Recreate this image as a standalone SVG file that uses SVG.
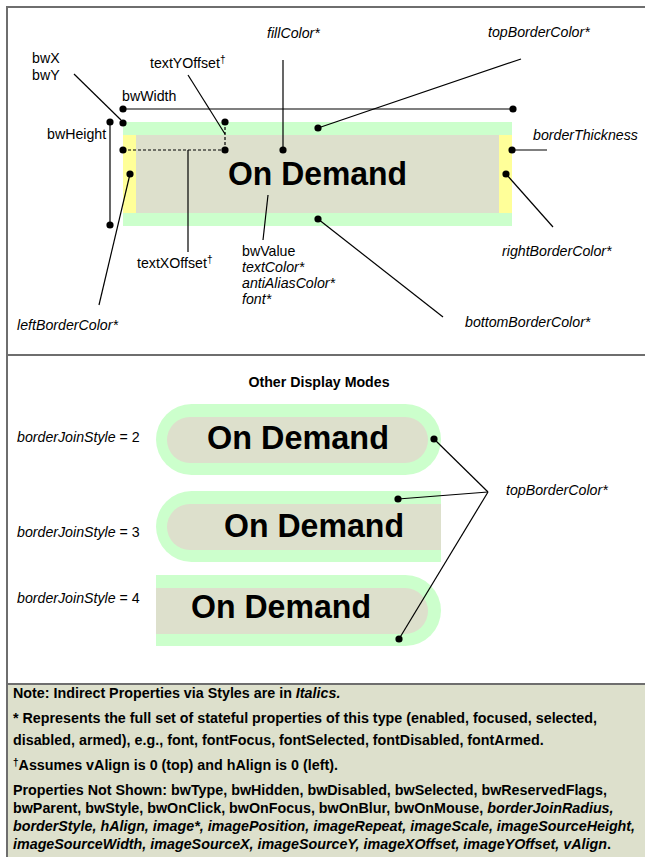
<svg xmlns="http://www.w3.org/2000/svg" width="645" height="857" viewBox="0 0 645 857">
<style>
.lbl{font-family:"Liberation Sans",Arial,sans-serif;font-size:14.2px;fill:#000}
.it{font-style:italic}
.big{font-family:"Liberation Sans",Arial,sans-serif;font-size:33px;font-weight:bold;fill:#000}
.note{font-family:"Liberation Sans",Arial,sans-serif;font-size:14.3px;font-weight:bold;fill:#000}
.ln{stroke:#000;stroke-width:1.2;fill:none}
.dash{stroke:#000;stroke-width:1.2;stroke-dasharray:3,2;fill:none}
.green{fill:#ccffcc}
.yellow{fill:#ffff99}
.fill{fill:#dde0cc}
.frame{stroke:#6e6e6e;stroke-width:2;fill:none}
</style>
<defs>
<circle id="dot" r="3.6" fill="#000"/>
</defs>
<rect x="0" y="0" width="645" height="857" fill="#fff"/>
<rect x="7" y="684" width="650" height="190" fill="#dde0cc"/>
<g id="frame">
<rect class="frame" x="7" y="7" width="660" height="880"/>
<line class="frame" x1="7" y1="355" x2="645" y2="355"/>
<line class="frame" x1="7" y1="684" x2="645" y2="684"/>
</g>
<g id="mainButton">
<rect class="green" x="123" y="122" width="389" height="13"/>
<rect class="green" x="123" y="213" width="389" height="13"/>
<rect class="yellow" x="123" y="135" width="13" height="78"/>
<rect class="yellow" x="499" y="135" width="13" height="78"/>
<rect class="fill" x="136" y="135" width="363" height="78"/>
<text class="big" x="228" y="185" textLength="179" lengthAdjust="spacingAndGlyphs">On Demand</text>
</g>
<g id="button2">
<rect class="green" x="156" y="404" width="285" height="71" rx="35.5"/>
<rect class="fill" x="167" y="417" width="261" height="46" rx="23"/>
<text class="big" x="207" y="449" textLength="182" lengthAdjust="spacingAndGlyphs">On Demand</text>
</g>
<g id="button3">
<path class="green" d="M191.5,491 H441 V562 H191.5 A35.5,35.5 0 0 1 191.5,491 Z"/>
<path class="fill" d="M190,504 H441 V550 H190 A23,23 0 0 1 190,504 Z"/>
<text class="big" x="224" y="537" textLength="180" lengthAdjust="spacingAndGlyphs">On Demand</text>
</g>
<g id="button4">
<path class="green" d="M156,575 H405.5 A35.5,35.5 0 0 1 405.5,646 H156 Z"/>
<path class="fill" d="M156,588 H405 A23,23 0 0 1 405,634 H156 Z"/>
<text class="big" x="191" y="618" textLength="180" lengthAdjust="spacingAndGlyphs">On Demand</text>
</g>
<g id="connectors">
<line class="ln" x1="123" y1="109" x2="513" y2="109"/>
<line class="ln" x1="74" y1="74" x2="121" y2="120"/>
<line class="ln" x1="110" y1="122" x2="110" y2="225"/>
<line class="dash" x1="225" y1="122" x2="225" y2="150"/>
<line class="dash" x1="123" y1="150" x2="225" y2="150"/>
<line class="ln" x1="188" y1="75" x2="225" y2="134"/>
<line class="ln" x1="188" y1="150" x2="188" y2="252"/>
<line class="ln" x1="283" y1="60" x2="283" y2="150"/>
<line class="ln" x1="318" y1="128" x2="521" y2="59"/>
<line class="ln" x1="512" y1="150" x2="547" y2="150"/>
<line class="ln" x1="506" y1="174" x2="553" y2="227"/>
<line class="ln" x1="318" y1="219" x2="443" y2="317"/>
<line class="ln" x1="130" y1="174" x2="99" y2="305"/>
<line class="ln" x1="268" y1="195" x2="263" y2="240"/>
<line class="ln" x1="434" y1="439" x2="488" y2="492"/>
<line class="ln" x1="398" y1="499" x2="488" y2="492"/>
<line class="ln" x1="399" y1="639" x2="488" y2="492"/>
<use href="#dot" x="123" y="109"/>
<use href="#dot" x="513" y="109"/>
<use href="#dot" x="123" y="123"/>
<use href="#dot" x="110" y="122"/>
<use href="#dot" x="110" y="225"/>
<use href="#dot" x="225" y="122"/>
<use href="#dot" x="225" y="150"/>
<use href="#dot" x="123" y="150"/>
<use href="#dot" x="283" y="150"/>
<use href="#dot" x="318" y="128"/>
<use href="#dot" x="512" y="150"/>
<use href="#dot" x="506" y="174"/>
<use href="#dot" x="318" y="219"/>
<use href="#dot" x="130" y="174"/>
<use href="#dot" x="434" y="439"/>
<use href="#dot" x="398" y="499"/>
<use href="#dot" x="399" y="639"/>
</g>
<g id="labels">
<text class="lbl" x="32" y="63">bwX</text>
<text class="lbl" x="32" y="80">bwY</text>
<text class="lbl" x="150" y="68">textYOffset<tspan font-size="10" dy="-5">†</tspan></text>
<text class="lbl it" x="267" y="38">fillColor*</text>
<text class="lbl it" x="488" y="37">topBorderColor*</text>
<text class="lbl" x="122" y="101">bwWidth</text>
<text class="lbl" x="47" y="139">bwHeight</text>
<text class="lbl it" x="533" y="140">borderThickness</text>
<text class="lbl it" x="502" y="256">rightBorderColor*</text>
<text class="lbl" x="137" y="268">textXOffset<tspan font-size="10" dy="-5">†</tspan></text>
<text class="lbl" x="242" y="256">bwValue</text>
<text class="lbl it" x="242" y="272">textColor*</text>
<text class="lbl it" x="242" y="288">antiAliasColor*</text>
<text class="lbl it" x="242" y="304">font*</text>
<text class="lbl it" x="17" y="330">leftBorderColor*</text>
<text class="lbl it" x="465" y="327">bottomBorderColor*</text>
<text class="lbl" x="319" y="387" text-anchor="middle" font-weight="bold">Other Display Modes</text>
<text class="lbl" x="17" y="442"><tspan class="it">borderJoinStyle</tspan> = 2</text>
<text class="lbl" x="17" y="537"><tspan class="it">borderJoinStyle</tspan> = 3</text>
<text class="lbl" x="17" y="603"><tspan class="it">borderJoinStyle</tspan> = 4</text>
<text class="lbl it" x="506" y="495">topBorderColor*</text>
</g>
<g id="notes">
<text class="note" x="13" y="698">Note: Indirect Properties via Styles are in <tspan class="it">Italics.</tspan></text>
<text class="note" x="13" y="723">* Represents the full set of stateful properties of this type (enabled, focused, selected,</text>
<text class="note" x="13" y="745">disabled, armed), e.g., font, fontFocus, fontSelected, fontDisabled, fontArmed.</text>
<text class="note" x="13" y="770"><tspan font-size="10" dy="-4">†</tspan><tspan dy="4">Assumes vAlign is 0 (top) and hAlign is 0 (left).</tspan></text>
<text class="note" x="13" y="795">Properties Not Shown: bwType, bwHidden, bwDisabled, bwSelected, bwReservedFlags,</text>
<text class="note" x="13" y="813">bwParent, bwStyle, bwOnClick, bwOnFocus, bwOnBlur, bwOnMouse, <tspan class="it">borderJoinRadius,</tspan></text>
<text class="note it" x="13" y="831">borderStyle, hAlign, image*, imagePosition, imageRepeat, imageScale, imageSourceHeight,</text>
<text class="note" x="13" y="849"><tspan class="it">imageSourceWidth, imageSourceX, imageSourceY, imageXOffset, imageYOffset, vAlign</tspan>.</text>
</g>
</svg>
